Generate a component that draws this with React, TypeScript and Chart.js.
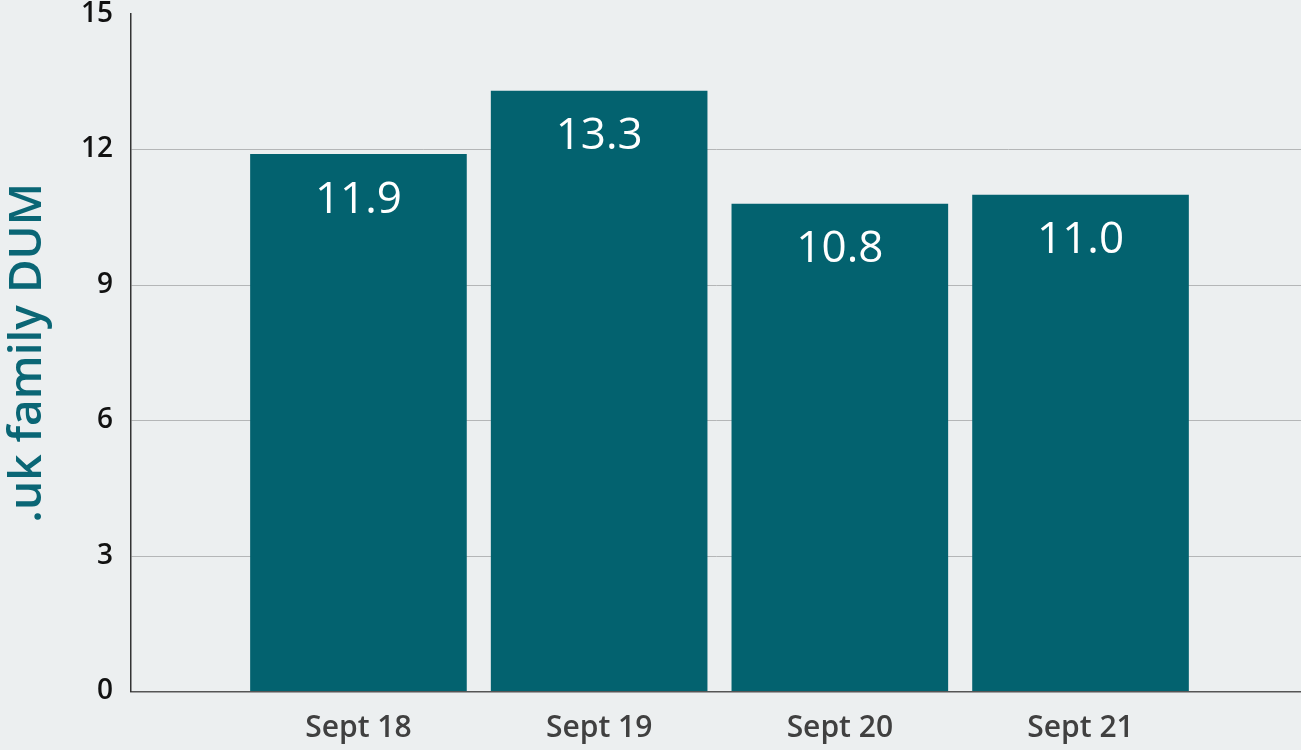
import React, { useEffect, useRef } from "react";
import { Chart, registerables } from "chart.js";

Chart.register(...registerables);

const categories: string[] = ["Sept 18", "Sept 19", "Sept 20", "Sept 21"];
const dumValues: number[] = [11.9, 13.3, 10.8, 11.0];
const yTicks: number[] = [0, 3, 6, 9, 12, 15];
const yTitle = ".uk family DUM";

const FONT = "'Open Sans', sans-serif";
const BG = "#eceff0";
const BAR = "#03626f";

const valueLabels = {
  id: "valueLabels",
  afterDatasetsDraw(chart: any) {
    const ctx = chart.ctx;
    const meta = chart.getDatasetMeta(0);
    ctx.save();
    ctx.fillStyle = "#ffffff";
    ctx.font = `500 44px ${FONT}`;
    ctx.textAlign = "center";
    ctx.textBaseline = "middle";
    meta.data.forEach((el: any, i: number) => {
      ctx.fillText(dumValues[i].toFixed(1), el.x, el.y + 46);
    });
    ctx.restore();
  },
};

export default function App() {
  const ref = useRef<HTMLCanvasElement | null>(null);

  useEffect(() => {
    document.body.style.margin = "0";
    document.body.style.background = BG;
    const canvas = ref.current!;
    const chart = new Chart(canvas, {
      type: "bar",
      data: {
        datasets: [
          {
            data: dumValues.map((v, i) => ({ x: i, y: v })),
            backgroundColor: BAR,
            borderWidth: 0,
            barPercentage: 0.9,
            categoryPercentage: 1,
          },
        ],
      },
      options: {
        responsive: false,
        animation: false,
        devicePixelRatio: 1,
        layout: { padding: { top: 14, right: 0, left: 0, bottom: 0 } },
        plugins: {
          legend: { display: false },
          tooltip: { enabled: false },
        },
        scales: {
          x: {
            type: "linear",
            offset: false,
            min: -0.945,
            max: 3.916,
            grid: { display: false, drawTicks: false, offset: false },
            border: { display: true, color: "#555555", width: 1.5 },
            afterBuildTicks: (axis: any) => {
              axis.ticks = categories.map((_, i) => ({ value: i }));
            },
            afterFit: (axis: any) => {
              axis.height = 58.5;
              axis.paddingLeft = 0;
              axis.paddingRight = 0;
            },
            ticks: {
              autoSkip: false,
              maxRotation: 0,
              color: "#404040",
              font: { family: FONT, size: 30, weight: 600 },
              padding: 19,
              callback: (v: any) => categories[Math.round(Number(v))] ?? "",
            },
          },
          y: {
            min: 0,
            max: 15,
            afterBuildTicks: (axis: any) => {
              axis.ticks = yTicks.map((v) => ({ value: v }));
            },
            afterFit: (axis: any) => {
              axis.width = 131;
              axis.paddingTop = 0;
              axis.paddingBottom = 0;
            },
            grid: {
              drawTicks: false,
              color: (c: any) =>
                c.tick && (c.tick.value === 15 || c.tick.value === 0)
                  ? "rgba(0,0,0,0)"
                  : "#b4b6b7",
              lineWidth: 1,
            },
            border: { display: true, color: "#333333", width: 1.5 },
            ticks: {
              color: "#111111",
              font: { family: FONT, size: 28, weight: 600 },
              padding: 18,
            },
            title: {
              display: true,
              text: yTitle,
              color: "#0a6675",
              font: { family: FONT, size: 46, weight: 600 },
              padding: 0,
            },
          },
        },
      },
      plugins: [valueLabels],
    });
    return () => chart.destroy();
  }, []);

  return (
    <div style={{ width: 1301, height: 750, background: BG }}>
      <canvas ref={ref} width={1301} height={750} style={{ display: "block" }} />
    </div>
  );
}
